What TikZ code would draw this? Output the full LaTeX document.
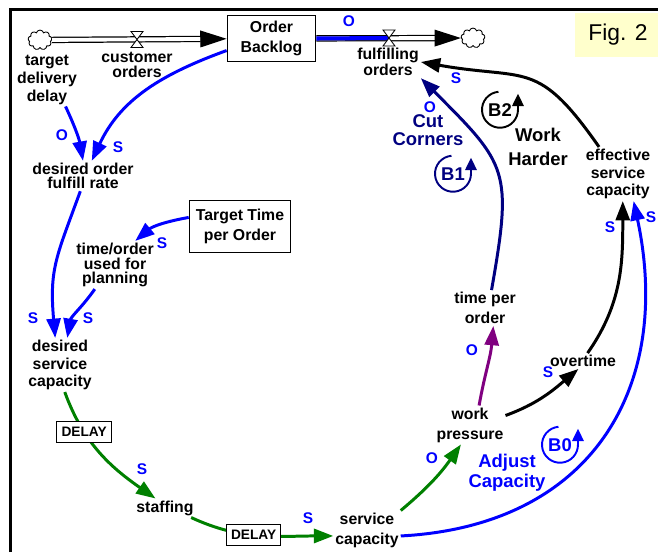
\documentclass[tikz,border=0pt]{standalone}
\usepackage{fontspec}
\setmainfont{Liberation Sans}
\usepackage{tikz}
\usetikzlibrary{shapes.symbols, arrows.meta, positioning}

\definecolor{linkblue}{RGB}{0,0,255}
\definecolor{loopnavy}{RGB}{0,0,128}
\definecolor{delaygreen}{RGB}{0,128,0}
\definecolor{pressurepurple}{RGB}{128,0,128}
\definecolor{figyellow}{RGB}{255,255,204}

\newcommand{\cldvar}{\fontsize{9}{10}\selectfont\bfseries}
\newcommand{\cldtight}{\fontsize{9}{8.3}\selectfont\bfseries}
\newcommand{\cldwide}{\fontsize{9}{11.4}\selectfont\bfseries}
\newcommand{\cldpol}{\fontsize{8.8}{10}\selectfont\bfseries}
\newcommand{\clddelay}{\fontsize{7.8}{9}\selectfont\bfseries}
\newcommand{\cldloop}{\fontsize{10.5}{10}\selectfont\bfseries}
\newcommand{\cldfig}{\fontsize{13}{15}\selectfont}

\begin{document}
\begin{tikzpicture}[x=0.02cm, y=0.02cm,
    every node/.style={align=center, inner sep=1pt},
    var/.style={font=\cldvar},
    stock/.style={draw, line width=0.6pt, minimum width=50.5pt, minimum height=26.6pt, font=\cldwide},
    link/.style={line width=1.7pt, -{Triangle[length=11pt, width=8pt]}},
    pol/.style={font=\cldpol, text=linkblue, inner sep=0pt},
    delaybox/.style={draw=black, text=black, fill=white, line width=0.6pt, font=\clddelay, minimum width=31pt, minimum height=12pt, inner sep=0pt},
    pipe/.style={double=white, double distance=2.2pt, line width=0.7pt, -{Triangle[length=15pt, width=9.5pt]}},
    valve/.style={draw, fill=white, line width=0.5pt},
    source/.style={cloud, cloud puffs=9, draw, line width=0.5pt, minimum width=13.6pt, minimum height=11.3pt, inner sep=0pt},
    loopsign/.style={circle, minimum size=20.4pt, inner sep=0pt, font=\cldloop},
    looparc/.style={line width=1.1pt, -{Triangle[length=7pt, width=6.5pt]}},
    loopname/.style={font=\cldloop}]

    \useasboundingbox (0,0) rectangle (658,552);

    % Frame and figure tag
    \draw[line width=1.7pt] (10.5,0) -- (10.5,542.5) -- (658,542.5);
    \node[fill=figyellow, minimum width=48.8pt, minimum height=25pt, font=\cldfig] (FigTag) at (618,517) {Fig. 2};

    % Nodes
    \node[stock] (OrderBacklog) at (271.5, 513.5) {Order\\Backlog};
    \node[source] (CloudL) at (40, 512) {};
    \node[source] (CloudR) at (473, 514) {};
    \coordinate (OrderValve) at (137, 512.5);
    \coordinate (FulfillValve) at (389, 514);
    \node[var, font=\cldtight] (CustomerOrders) at (137, 487) {customer\\orders};
    \node[var, font=\cldtight] (FulfillingOrders) at (388, 490) {fulfilling\\orders};
    \node[var] (TargetDelay) at (47, 472) {target\\delivery\\delay};
    \node[var, font=\cldtight] (DesiredRate) at (83, 376) {desired order\\fulfill rate};
    \node[stock, minimum width=57.8pt, minimum height=30pt] (TargetTime) at (240, 325.5) {Target Time\\per Order};
    \node[var, font=\cldtight] (TimeUsed) at (115, 287) {time/order\\used for\\planning};
    \node[var] (DesiredCap) at (60, 187) {desired\\service\\capacity};
    \node[var] (Staffing) at (165, 44) {staffing};
    \node[var, font=\cldwide] (ServiceCap) at (367, 22) {service\\capacity};
    \node[var, font=\cldwide] (WorkPressure) at (470, 127) {work\\pressure};
    \node[var, font=\cldwide] (TimePerOrder) at (485, 244) {time per\\order};
    \node[var] (Overtime) at (583, 191) {overtime};
    \node[var] (EffCap) at (618, 378) {effective\\service\\capacity};

    % Loops
    \node[loopsign, text=loopnavy] (LoopB1) at (453, 378) {B1};
    \draw[looparc, loopnavy] (LoopB1.95) arc[start angle=95, end angle=360, radius=18] -- ++(0,16);
    \node[loopsign] (LoopB2) at (500, 442) {B2};
    \draw[looparc] (LoopB2.95) arc[start angle=95, end angle=360, radius=18] -- ++(0,16);
    \node[loopsign, text=linkblue] (LoopB0) at (560, 107) {B0};
    \draw[looparc, linkblue] (LoopB0.95) arc[start angle=95, end angle=360, radius=18] -- ++(0,16);
    \node[loopname, text=loopnavy] (CutCorners) at (428, 422) {Cut\\Corners};
    \node[loopname] (WorkHarder) at (538, 405) {Work\\[3.5pt]Harder};
    \node[loopname, text=linkblue] (AdjustCapacity) at (507, 79) {Adjust\\[1.5pt]Capacity};

    % Flows
    \draw[pipe] (CloudL) -- (OrderBacklog);
    \draw[pipe] (OrderBacklog) -- (CloudR);
    \draw[linkblue, line width=2.3pt] (OrderBacklog.east) -- (FulfillValve);
    \draw[valve] (OrderValve) ++(-6,8) -- ++(12,0) -- ++(-12,-16) -- ++(12,0) -- cycle;
    \draw[valve] (FulfillValve) ++(-6,8) -- ++(12,0) -- ++(-12,-16) -- ++(12,0) -- cycle;

    % Edges
    % planning side
    \draw[link, linkblue] (TargetDelay.-55) to[out=-65, in=100] (DesiredRate.north);
    \draw[link, linkblue] (OrderBacklog.195) to[out=200, in=65] (DesiredRate.60);
    \draw[link, linkblue] (DesiredRate.-100) to[out=250, in=95, looseness=1.2] (DesiredCap.100);
    \draw[link, linkblue] (TargetTime.170) to[out=190, in=40] (TimeUsed.50);
    \draw[link, linkblue] (TimeUsed.-130) to[out=235, in=80] (DesiredCap.75);

    % capacity chain
    \draw[link, delaygreen] (DesiredCap.-80) to[out=-70, in=145] node[delaybox, pos=0.3] (DelayStaffing) {DELAY} (Staffing.135);
    \draw[link, delaygreen] (Staffing.-20) to[out=-25, in=180] node[delaybox, pos=0.45] (DelayCapacity) {DELAY} (ServiceCap.190);
    \draw[link, delaygreen] (ServiceCap.30) to[out=40, in=235] (WorkPressure.-115);

    % balancing loops
    \draw[link, pressurepurple] (WorkPressure.65) to[out=80, in=265] (TimePerOrder.-65);
    \draw[link, loopnavy] (TimePerOrder.70) to[out=80, in=-45, looseness=1.4] (FulfillingOrders.south east);
    \draw[link] (WorkPressure.15) to[out=20, in=220] (Overtime.-120);
    \draw[link] (Overtime.60) to[out=55, in=-90] (EffCap.-80);
    \draw[link] (EffCap.125) to[out=125, in=-10, looseness=1.4] (FulfillingOrders.east);
    \draw[link, linkblue] (ServiceCap.-10) to[out=3, in=-78, looseness=1.2] (EffCap.-60);

    % Polarities
    \node[pol] (PolFulfill) at (349, 531) {O};
    \node[pol] (PolDelay) at (62, 417) {O};
    \node[pol] (PolBacklog) at (118, 405) {S};
    \node[pol] (PolTarget) at (162, 309) {S};
    \node[pol] (PolRate) at (33, 234) {S};
    \node[pol] (PolPlanning) at (88, 234) {S};
    \node[pol] (PolStaffing) at (142, 83) {S};
    \node[pol] (PolCapacity) at (308, 34) {S};
    \node[pol] (PolPressure) at (432, 94) {O};
    \node[pol] (PolTime) at (472, 202) {O};
    \node[pol] (PolCut) at (430, 445) {O};
    \node[pol] (PolHarder) at (456, 474) {S};
    \node[pol] (PolOvertime) at (548, 180) {S};
    \node[pol] (PolEffective) at (610, 325) {S};
    \node[pol] (PolAdjust) at (651, 335) {S};

\end{tikzpicture}
\end{document}
